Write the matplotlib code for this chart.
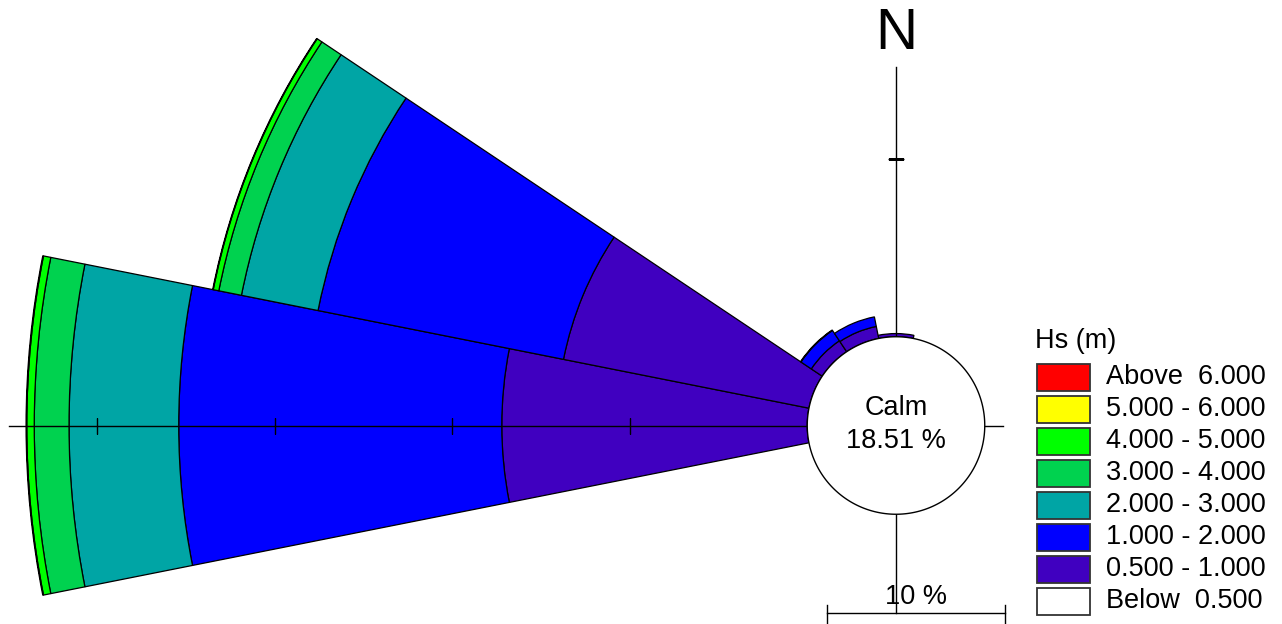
import numpy as np
import matplotlib
matplotlib.use('Agg')
import matplotlib.pyplot as plt
from matplotlib.patches import Rectangle

plt.rcParams['font.family'] = ['Liberation Sans', 'DejaVu Sans']

# Hs rose: percentage of time per direction sector and height class
directions = ['N', 'NNE', 'NE', 'ENE', 'E', 'ESE', 'SE', 'SSE',
              'S', 'SSW', 'SW', 'WSW', 'W', 'WNW', 'NW', 'NNW']
hs_05_1 = [0.18, 0, 0, 0, 0, 0, 0, 0, 0, 0, 0, 0, 17.21, 14.10, 0.74, 0.69]
hs_1_2 = [0, 0, 0, 0, 0, 0, 0, 0, 0, 0, 0, 0, 18.20, 14.10, 0.70, 0.55]
hs_2_3 = [0, 0, 0, 0, 0, 0, 0, 0, 0, 0, 0, 0, 6.18, 4.40, 0.03, 0]
hs_3_4 = [0, 0, 0, 0, 0, 0, 0, 0, 0, 0, 0, 0, 1.96, 1.30, 0, 0]
hs_4_5 = [0, 0, 0, 0, 0, 0, 0, 0, 0, 0, 0, 0, 0.42, 0.32, 0, 0]
hs_5_6 = [0, 0, 0, 0, 0, 0, 0, 0, 0, 0, 0, 0, 0.04, 0.03, 0, 0]
hs_6up = [0] * 16
calm_pct = 18.51

bins = [hs_05_1, hs_1_2, hs_2_3, hs_3_4, hs_4_5, hs_5_6, hs_6up]
bin_colors = ['#4000C0', '#0000FF', '#00A5A5', '#00D24F', '#00FF00', '#FFFF00', '#FF0000']
legend_labels = ['Above  6.000', '5.000 - 6.000', '4.000 - 5.000', '3.000 - 4.000',
                 '2.000 - 3.000', '1.000 - 2.000', '0.500 - 1.000', 'Below  0.500']
legend_colors = bin_colors[::-1] + ['#FFFFFF']

W, H = 1282, 624
cx, cy = 896, 425.5          # rose centre, pixels from top-left
px = 17.75                   # pixels per percent
r0 = 5.0                     # calm circle radius (in % units)
rmax = 51.0

fig = plt.figure(figsize=(W / 100, H / 100), dpi=100)
half = rmax * px
ax = fig.add_axes([(cx - half) / W, (H - cy - half) / H, 2 * half / W, 2 * half / H],
                  projection='polar')
ax.set_theta_zero_location('N')
ax.set_theta_direction(-1)
ax.set_ylim(0, rmax)
ax.axis('off')

theta = np.deg2rad(np.arange(16) * 22.5)
width = np.deg2rad(22.5)
bottom = np.full(16, r0)
for vals, col in zip(bins, bin_colors):
    vals = np.asarray(vals, float)
    m = vals > 0
    if m.any():
        ax.bar(theta[m], vals[m], width=width, bottom=bottom[m], color=col,
               edgecolor='black', linewidth=0.9, align='center', zorder=2)
    bottom = bottom + vals

# axis lines and ticks
lk = dict(color='black', lw=1.0, zorder=3)
ax.plot([np.deg2rad(270), np.deg2rad(270)], [0, 50.0], **lk)
ax.plot([np.deg2rad(90), np.deg2rad(90)], [0, 6.03], **lk)
ax.plot([0, 0], [0, 20.2], **lk)
ax.plot([np.pi, np.pi], [0, 10.56], **lk)
ax.plot(np.full(4, np.deg2rad(270)), [15, 25, 35, 45], ls='none', marker='|',
        ms=12, mew=1.0, color='black', zorder=3)
ax.plot([0], [15], ls='none', marker='_', ms=12, mew=1.0, color='black', zorder=3)

# calm circle
tt = np.linspace(0, 2 * np.pi, 400)
ax.fill(tt, np.full_like(tt, r0), facecolor='white', edgecolor='black', lw=1.0, zorder=4)

# overlay in pixel coordinates for labels, scale bar and legend
ov = fig.add_axes([0, 0, 1, 1])
ov.set_xlim(0, W)
ov.set_ylim(H, 0)
ov.axis('off')

ov.text(cx, 408, 'Calm', ha='center', va='center', fontsize=19.5)
ov.text(cx, 441, f'{calm_pct:.2f} %', ha='center', va='center', fontsize=19.5)
ov.text(cx, 34, 'N', ha='center', va='center', fontsize=42)

sx0, sy = 827, 613
sx1 = sx0 + 10 * px
ov.plot([sx0, sx1], [sy, sy], color='black', lw=1.0)
ov.plot([sx0, sx0], [sy - 8, sy + 10], color='black', lw=1.0)
ov.plot([sx1, sx1], [sy - 8, sy + 10], color='black', lw=1.0)
ov.text((sx0 + sx1) / 2, 597, '10 %', ha='center', va='center', fontsize=19.5)

ov.text(1035, 341, 'Hs (m)', ha='left', va='center', fontsize=19.5)
for i, (lab, col) in enumerate(zip(legend_labels, legend_colors)):
    y = 363.5 + 32 * i
    ov.add_patch(Rectangle((1037, y), 53, 27, facecolor=col, edgecolor='#333333', lw=1.3))
    ov.text(1106, y + 13.5, lab, ha='left', va='center', fontsize=19.5)

fig.savefig('out.png', dpi=100)
